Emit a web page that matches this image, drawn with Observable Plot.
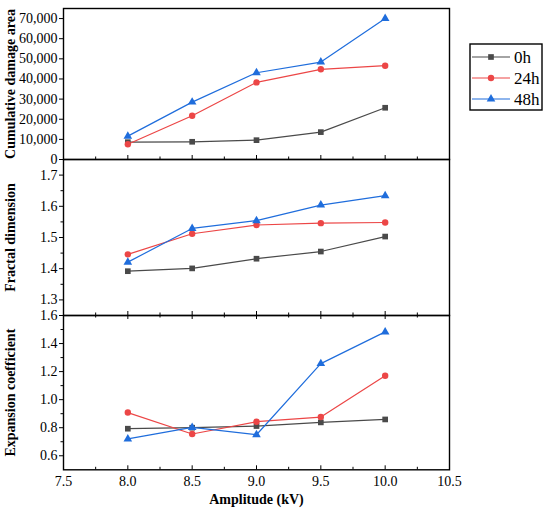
<!DOCTYPE html>
<html><head><meta charset="utf-8">
<script src="https://cdn.jsdelivr.net/npm/d3@7"></script>
<script src="https://cdn.jsdelivr.net/npm/@observablehq/plot@0.6"></script>
<style>
body{margin:0;background:#fff;}
#wrap{position:relative;width:550px;height:515px;font-family:"Liberation Serif","DejaVu Serif",serif;}
#wrap svg{position:absolute;left:0;overflow:visible;font-family:"Liberation Serif","DejaVu Serif",serif !important;}
</style></head><body><div id="wrap"></div>
<script>
// ---- data ----
const amplitude = [8.0, 8.5, 9.0, 9.5, 10.0];
const series = ["0h", "24h", "48h"];
const colors = ["#4a4a4a", "#ec4646", "#1f6ddc"];
const symbols = ["square", "circle", "triangle"];

const damage0h  = [8600, 8800, 9600, 13600, 25700];
const damage24h = [7600, 21700, 38300, 44800, 46600];
const damage48h = [11600, 28500, 43100, 48400, 70000];

const fractal0h  = [1.392, 1.401, 1.432, 1.455, 1.503];
const fractal24h = [1.446, 1.512, 1.540, 1.546, 1.548];
const fractal48h = [1.421, 1.529, 1.554, 1.604, 1.634];

const expansion0h  = [0.793, 0.800, 0.812, 0.838, 0.859];
const expansion24h = [0.908, 0.755, 0.843, 0.876, 1.171];
const expansion48h = [0.720, 0.802, 0.750, 1.257, 1.483];

const xTicks = [7.5, 8.0, 8.5, 9.0, 9.5, 10.0, 10.5];
const xMinor = [7.75, 8.25, 8.75, 9.25, 9.75, 10.25];
const damageTicks = [0, 10000, 20000, 30000, 40000, 50000, 60000, 70000];
const fractalTicks = [1.3, 1.4, 1.5, 1.6, 1.7];
const fractalMinor = [1.35, 1.45, 1.55, 1.65];
const expansionTicks = [0.6, 0.8, 1.0, 1.2, 1.4, 1.6];
const expansionMinor = [0.7, 0.9, 1.1, 1.3, 1.5];

function rows(a, b, c) {
  const out = [];
  [a, b, c].forEach((vals, i) => vals.forEach((v, j) => out.push({x: amplitude[j], y: v, s: series[i]})));
  return out;
}

const wrap = document.getElementById("wrap");
const FONT = "'Liberation Serif', 'DejaVu Serif', serif";

function panel({data, domain, ticks, minor, fmt, label, top, height, mTop, mBottom, bottom, topTicks}) {
  const plotH = height - mTop - mBottom;
  const marks = [
    Plot.axisY({ticks, tickFormat: fmt, tickSize: 4, tickPadding: 2, label: null, fontSize: 14, fontFamily: FONT}),
  ];
  if (minor) marks.push(Plot.axisY({ticks: minor, tickFormat: () => "", tickSize: 2.5, label: null}));
  marks.push(Plot.ruleX(xTicks.slice(1, -1), {insetTop: plotH - 4, stroke: "black", strokeWidth: 1}));
  marks.push(Plot.ruleX(xMinor, {insetTop: plotH - 2.5, stroke: "black", strokeWidth: 1}));
  if (topTicks) {
    marks.push(Plot.ruleX(xTicks.slice(1, -1), {insetBottom: plotH - 4, stroke: "black", strokeWidth: 1}));
    marks.push(Plot.ruleX(xMinor, {insetBottom: plotH - 2.5, stroke: "black", strokeWidth: 1}));
  }
  if (bottom) {
    marks.push(Plot.axisX({ticks: xTicks, tickFormat: d3.format(".1f"), tickSize: 0, tickPadding: 6, label: null, fontSize: 14, fontFamily: FONT}));
    marks.push(Plot.text(["Amplitude (kV)"], {frameAnchor: "bottom", dy: 34, fontWeight: "bold", fontSize: 14, fontFamily: FONT}));
  } else {
    marks.push(Plot.axisX({ticks: [], label: null}));
  }
  marks.push(Plot.text([label], {frameAnchor: "left", textAnchor: "middle", dx: -53, rotate: -90, fontWeight: "bold", fontSize: 14, fontFamily: FONT}));
  marks.push(Plot.line(data, {x: "x", y: "y", stroke: "s", strokeWidth: 1.2}));
  marks.push(Plot.dot(data, {x: "x", y: "y", fill: "s", symbol: "s", r: 3.2}));
  marks.push(Plot.frame({stroke: "black", strokeWidth: 1.4}));
  const p = Plot.plot({
    width: 550, height,
    marginLeft: 63, marginRight: 101, marginTop: mTop, marginBottom: mBottom,
    style: {background: "transparent", fontFamily: FONT, fontSize: "14px", color: "#000", overflow: "visible"},
    x: {domain: [7.5, 10.5]},
    y: {domain},
    color: {domain: series, range: colors},
    symbol: {domain: series, range: symbols},
    marks
  });
  p.style.top = top + "px";
  p.style.position = "absolute";
  wrap.appendChild(p);
}

panel({data: rows(damage0h, damage24h, damage48h), domain: [0, 75000], ticks: damageTicks,
  fmt: d3.format(","), label: "Cumulative damage area", top: 0, height: 159, mTop: 8, mBottom: 0});
panel({data: rows(fractal0h, fractal24h, fractal48h), domain: [1.25, 1.75], ticks: fractalTicks, minor: fractalMinor,
  fmt: d3.format(".1f"), label: "Fractal dimension", top: 159, height: 156, mTop: 0, mBottom: 0});
panel({data: rows(expansion0h, expansion24h, expansion48h), domain: [0.5, 1.6], ticks: expansionTicks, minor: expansionMinor,
  fmt: d3.format(".1f"), label: "Expansion coefficient", top: 315, height: 200, mTop: 0, mBottom: 45.7, bottom: true, topTicks: true});

// ---- legend ----
const lg = d3.create("svg").attr("width", 76).attr("height", 70)
  .style("left", "469px").style("top", "43px").style("position", "absolute");
lg.append("rect").attr("x", 1).attr("y", 1).attr("width", 72).attr("height", 66)
  .attr("fill", "white").attr("stroke", "black").attr("stroke-width", 1.4);
const d3sym = [d3.symbolSquare, d3.symbolCircle, d3.symbolTriangle];
series.forEach((s, i) => {
  const y = 14 + i * 21;
  lg.append("line").attr("x1", 3).attr("x2", 41).attr("y1", y).attr("y2", y)
    .attr("stroke", colors[i]).attr("stroke-width", 1.2);
  lg.append("path").attr("d", d3.symbol(d3sym[i], Math.PI * 3.2 * 3.2)())
    .attr("transform", `translate(22,${y})`).attr("fill", colors[i]);
  lg.append("text").attr("x", 45).attr("y", y).attr("dy", "0.35em")
    .style("font-family", FONT).attr("font-size", 17).text(s);
});
wrap.appendChild(lg.node());
</script></body></html>
